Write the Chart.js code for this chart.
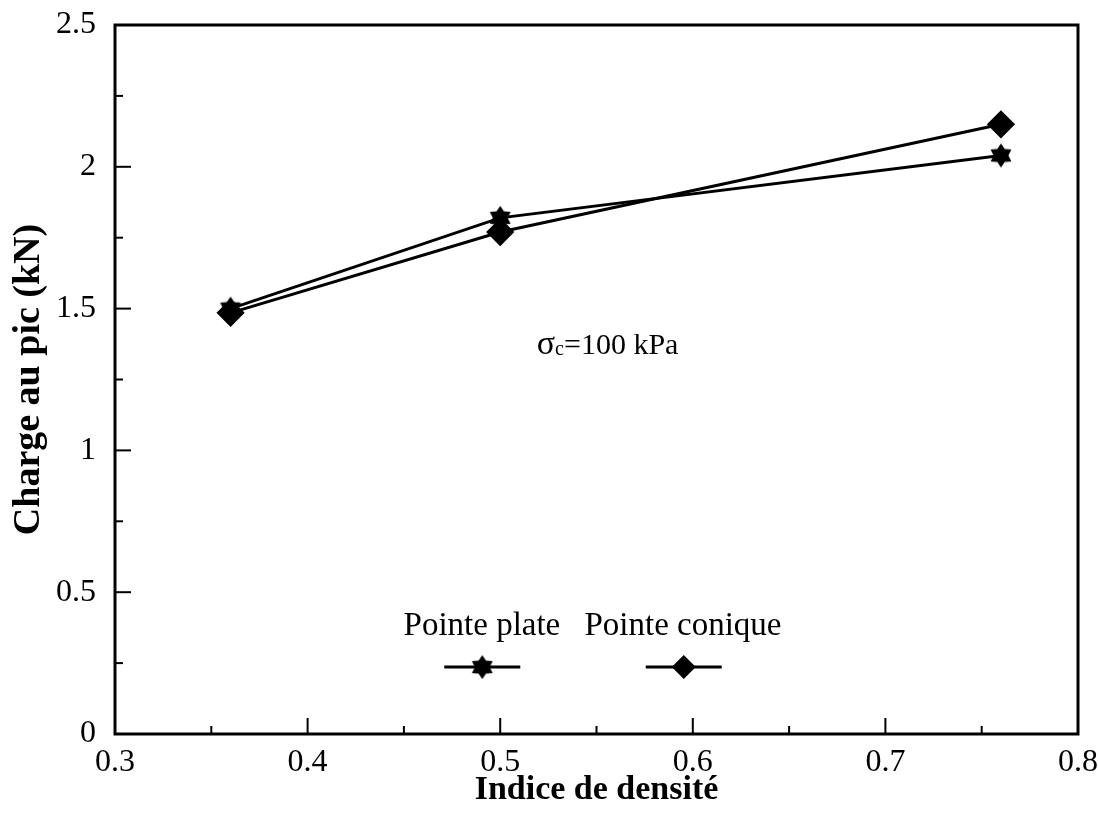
<!DOCTYPE html>
<html>
<head>
<meta charset="utf-8">
<script src="https://cdn.jsdelivr.net/npm/chart.js@4/dist/chart.umd.min.js"></script>
<style>
  html, body { margin: 0; padding: 0; background: #fff; }
  #wrap { width: 1098px; height: 825px; }
</style>
</head>
<body>
<div id="wrap"><canvas id="chargeChart" width="1098" height="825"></canvas></div>
<script>
// donnees
var indiceDensite = [0.36, 0.5, 0.76];
var pointePlate = [1.50, 1.82, 2.04];
var pointeConique = [1.485, 1.77, 2.15];
var seriesNames = ["Pointe plate", "Pointe conique"];
var xTicks = [0.3, 0.4, 0.5, 0.6, 0.7, 0.8];
var yTicks = [0, 0.5, 1, 1.5, 2, 2.5];

var serif = "'Liberation Serif', 'Times New Roman', serif";

// etoile a six branches pleine
function makeStar(r) {
    var c = document.createElement('canvas');
    c.width = r * 2 + 2;
    c.height = r * 2 + 2;
    var g = c.getContext('2d');
    g.fillStyle = '#000';
    g.beginPath();
    for (var i = 0; i < 12; i++) {
        var a = -Math.PI / 2 + i * Math.PI / 6;
        var rr = (i % 2 === 0) ? r : r * 0.62;
        var px = r + 1 + rr * Math.cos(a), py = r + 1 + rr * Math.sin(a);
        if (i === 0) g.moveTo(px, py); else g.lineTo(px, py);
    }
    g.closePath();
    g.fill();
    return c;
}
var starImg = makeStar(12);

function toPoints(xs, ys) {
    return xs.map(function (x, i) { return {x: x, y: ys[i]}; });
}

var dataFirst = {
    label: seriesNames[0],
    data: toPoints(indiceDensite, pointePlate),
    showLine: true,
    borderColor: '#000',
    borderWidth: 3,
    pointStyle: starImg,
    pointRadius: 12,
    pointBackgroundColor: '#000'
};

var dataSecond = {
    label: seriesNames[1],
    data: toPoints(indiceDensite, pointeConique),
    showLine: true,
    borderColor: '#000',
    borderWidth: 3,
    pointStyle: 'rectRot',
    pointRadius: 12,
    pointBackgroundColor: '#000',
    pointBorderColor: '#000'
};

// cadre, graduations interieures, legende et annotation
var decorPlugin = {
    id: 'decor',
    afterDatasetsDraw: function (chart) {
        var ctx = chart.ctx, a = chart.chartArea;
        var xs = chart.scales.x, ys = chart.scales.y;
        ctx.save();
        ctx.strokeStyle = '#000';
        ctx.lineWidth = 3;
        ctx.strokeRect(a.left, a.top, a.right - a.left, a.bottom - a.top);

        ctx.lineWidth = 2;
        var v, p;
        for (v = 0.3; v <= 0.8001; v += 0.05) {
            p = xs.getPixelForValue(v);
            var major = Math.abs(v * 10 - Math.round(v * 10)) < 0.01;
            ctx.beginPath();
            ctx.moveTo(p, a.bottom);
            ctx.lineTo(p, a.bottom - (major ? 16 : 8));
            ctx.stroke();
        }
        for (v = 0; v <= 2.5001; v += 0.25) {
            p = ys.getPixelForValue(v);
            var majorY = Math.abs(v * 2 - Math.round(v * 2)) < 0.01;
            ctx.beginPath();
            ctx.moveTo(a.left, p);
            ctx.lineTo(a.left + (majorY ? 16 : 8), p);
            ctx.stroke();
        }

        // legende
        ctx.fillStyle = '#000';
        ctx.font = '33px ' + serif;
        ctx.textAlign = 'center';
        ctx.textBaseline = 'alphabetic';
        var legX = [0.4907, 0.5953];
        var textX = [0.4905, 0.5949];
        var legY = ys.getPixelForValue(0.236);
        for (var i = 0; i < 2; i++) {
            var cx = xs.getPixelForValue(legX[i]);
            ctx.fillText(seriesNames[i], xs.getPixelForValue(textX[i]), legY - 32);
            ctx.lineWidth = 3;
            ctx.beginPath();
            ctx.moveTo(cx - 38, legY);
            ctx.lineTo(cx + 38, legY);
            ctx.stroke();
            if (i === 0) {
                ctx.drawImage(starImg, cx - starImg.width / 2, legY - starImg.height / 2);
            } else {
                ctx.beginPath();
                ctx.moveTo(cx, legY - 12);
                ctx.lineTo(cx + 12, legY);
                ctx.lineTo(cx, legY + 12);
                ctx.lineTo(cx - 12, legY);
                ctx.closePath();
                ctx.fill();
            }
        }

        // annotation sigma_c
        var ax = xs.getPixelForValue(0.519), ay = ys.getPixelForValue(1.34);
        ctx.textAlign = 'left';
        ctx.font = '34px ' + serif;
        ctx.fillText('σ', ax, ay);
        var w = ctx.measureText('σ').width;
        ctx.font = '20px ' + serif;
        ctx.fillText('c', ax + w, ay + 1);
        var w2 = ctx.measureText('c').width;
        ctx.font = '30px ' + serif;
        ctx.fillText('=100 kPa', ax + w + w2, ay);
        ctx.restore();
    }
};

var canvas = document.getElementById('chargeChart');

var chartOptions = {
    responsive: false,
    animation: false,
    layout: {padding: {left: 0, right: 20, top: 25, bottom: 2}},
    plugins: {
        legend: {display: false},
        tooltip: {enabled: false}
    },
    scales: {
        x: {
            type: 'linear',
            min: 0.3,
            max: 0.8,
            afterBuildTicks: function (scale) {
                scale.ticks = xTicks.map(function (v) { return {value: v}; });
            },
            afterFit: function (scale) {
                scale.height = 89;
                scale.paddingLeft = 0;
                scale.paddingRight = 0;
            },
            grid: {display: false, drawTicks: false},
            border: {display: false},
            ticks: {
                color: '#000',
                padding: 9,
                maxRotation: 0,
                font: {family: serif, size: 32},
                callback: function (v) { return String(Math.round(v * 10) / 10); }
            },
            title: {
                display: true,
                text: 'Indice de densité',
                color: '#000',
                padding: {top: 0, bottom: 12},
                font: {family: serif, size: 34, weight: 'bold'}
            }
        },
        y: {
            type: 'linear',
            min: 0,
            max: 2.5,
            afterBuildTicks: function (scale) {
                scale.ticks = yTicks.map(function (v) { return {value: v}; });
            },
            afterFit: function (scale) {
                scale.width = 115;
                scale.paddingTop = 0;
                scale.paddingBottom = 0;
            },
            grid: {display: false, drawTicks: false},
            border: {display: false},
            ticks: {
                color: '#000',
                padding: 19,
                font: {family: serif, size: 32},
                callback: function (v) { return String(v); }
            },
            title: {
                display: true,
                text: 'Charge au pic (kN)',
                color: '#000',
                padding: {top: 6, bottom: 0},
                font: {family: serif, size: 38, weight: 'bold'}
            }
        }
    }
};

var lineChart = new Chart(canvas, {
    type: 'scatter',
    data: {datasets: [dataFirst, dataSecond]},
    options: chartOptions,
    plugins: [decorPlugin]
});
</script>
</body>
</html>
